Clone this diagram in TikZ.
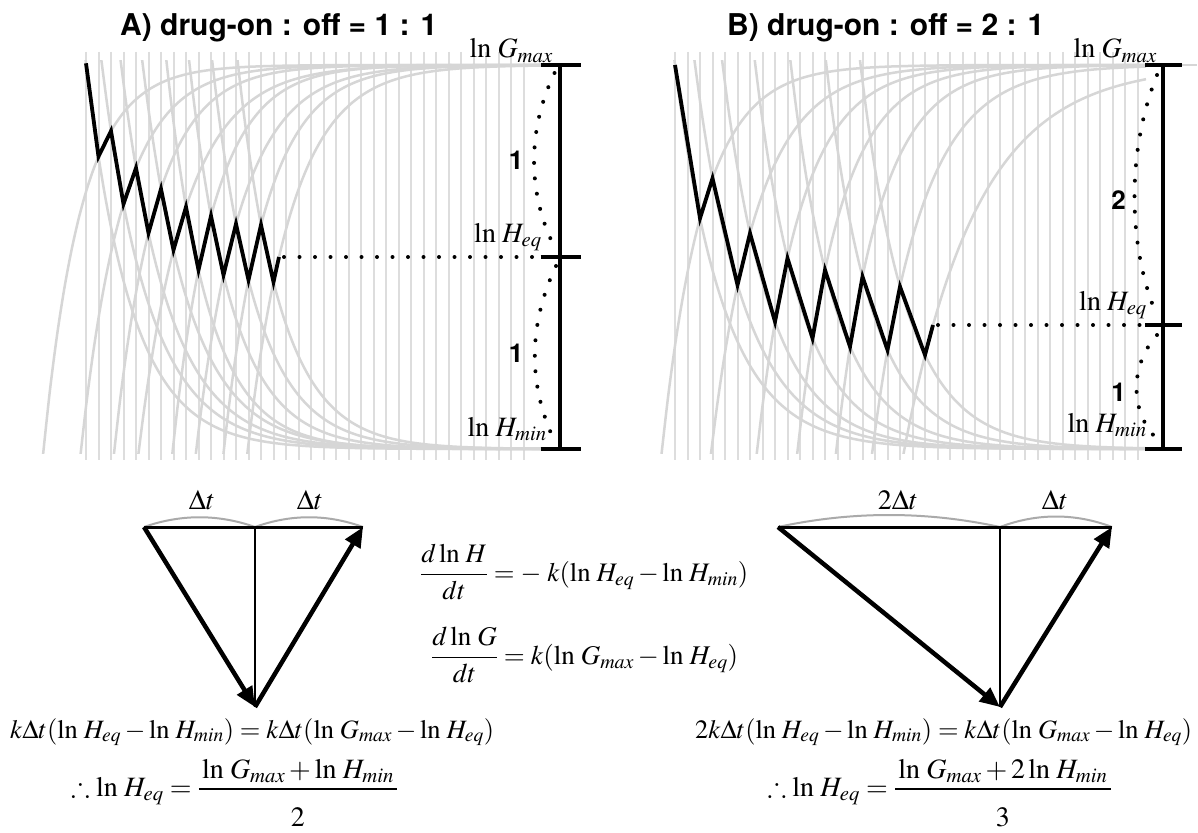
\documentclass[tikz,border=0pt]{standalone}
\usepackage{amsmath,amssymb}
\usepackage{mathptmx}
\usepackage{graphicx}
\usepackage{fontspec}
\setsansfont{TeX Gyre Heros}
\usetikzlibrary{arrows.meta,calc}
\definecolor{gridgrey}{RGB}{221,221,221}
\definecolor{curvegrey}{RGB}{214,214,214}
\definecolor{arcgrey}{RGB}{170,170,170}
\newcommand{\mfs}{\fontsize{28}{34}\selectfont}
\newcommand{\tfs}{\sffamily\bfseries\fontsize{30}{36}\selectfont}
\newcommand{\nfs}{\sffamily\bfseries\fontsize{26}{30}\selectfont}
\newcommand{\lnn}{\ln\mkern2mu}
% falling curve toward \yH through (xs,ys) and (xe,ye)
\newcommand{\fallcurve}[4]{%
  \pgfmathsetmacro{\cvRate}{ln((\yH-#2)/(\yH-#4))/(#3-#1)}%
  \pgfmathsetmacro{\cvStart}{#1-ln((\yH-58)/(\yH-#2))/\cvRate}%
  \draw[curve] plot[domain=\cvStart:\xR, samples=70, smooth] (\x,{\yH-(\yH-#2)*exp(-\cvRate*(\x-#1))});%
}
% rising curve toward \yG through (xs,ys) and (xe,ye)
\newcommand{\risecurve}[4]{%
  \pgfmathsetmacro{\cvRate}{ln((#2-\yG)/(#4-\yG))/(#3-#1)}%
  \pgfmathsetmacro{\cvStart}{#1-ln((458-\yG)/(#2-\yG))/\cvRate}%
  \draw[curve] plot[domain=\cvStart:\xR, samples=70, smooth] (\x,{\yG+(#2-\yG)*exp(-\cvRate*(\x-#1))});%
}
\begin{document}
\begin{tikzpicture}[x=1pt,y=-1pt,
  gridln/.style={draw=gridgrey, line width=2pt},
  curve/.style={draw=curvegrey, line width=2.5pt},
  zig/.style={draw=black, line width=3.8pt, line join=miter},
  dots/.style={draw=black, line width=4pt, line cap=round, dash pattern=on 0pt off 15.5pt},
  brk/.style={draw=black, line width=3.5pt},
  topln/.style={draw=black, line width=3pt},
  thinln/.style={draw=black, line width=1.8pt},
  arcln/.style={draw=arcgrey, line width=2pt},
  fracbar/.style={draw=black, line width=1.3pt},
  arr/.style={draw=black, line width=4.5pt, -{Triangle[length=20pt,width=17pt]}},
  lab/.style={inner sep=0pt, font=\mfs},
  ttl/.style={inner sep=0pt, font=\tfs},
  numlab/.style={inner sep=0pt, font=\nfs}
]
\useasboundingbox[fill=white] (0,0) rectangle (1198,832);

% ================= Panel A =================
\foreach \k in {0,...,35} \draw[gridln] ({86+12.5*\k},52) -- ({86+12.5*\k},460);
\def\yH{449}\def\yG{65}\def\xR{541}
\begin{scope}
\clip (0,61) rectangle (541,453);
\fallcurve{86}{63.3}{98.5}{156.5}
\fallcurve{111}{131}{123.5}{204}
\fallcurve{136}{168}{148.5}{233}
\fallcurve{161}{189}{173.5}{250}
\fallcurve{186}{207}{198.5}{270}
\fallcurve{211}{216}{223.5}{275}
\fallcurve{236}{224}{248.5}{280}
\fallcurve{261}{225}{273.5}{282}
\risecurve{98.5}{156.5}{111}{131}
\risecurve{123.5}{204}{136}{168}
\risecurve{148.5}{233}{161}{189}
\risecurve{173.5}{250}{186}{207}
\risecurve{198.5}{270}{211}{216}
\risecurve{223.5}{275}{236}{224}
\risecurve{248.5}{280}{261}{225}
\risecurve{273.5}{282}{279}{257}
\end{scope}
\draw[zig] (86,63.3) -- (98.5,156.5) -- (111,131) -- (123.5,204) -- (136,168) -- (148.5,233) -- (161,189) -- (173.5,250) -- (186,207) -- (198.5,270) -- (211,216) -- (223.5,275) -- (236,224) -- (248.5,280) -- (261,225) -- (273.5,282) -- (279,257);
\coordinate (zAend) at (284,257);
\coordinate (AtG) at (560,65); \coordinate (AtE) at (560,257); \coordinate (AtH) at (560,449);
\draw[dots] (zAend) -- (538,257);
\draw[brk] (AtG) -- (AtH);
\draw[brk] (540.5,65) -- (580.5,65);
\draw[brk] (540.5,257) -- (580.5,257);
\draw[brk] (540.5,449) -- (580.5,449);
\draw[dots] (554.5,73) .. controls (527,130) and (527,195) .. (556,250);
\draw[dots] (556,266) .. controls (528,325) and (528,385) .. (554.5,441);
\node[lab, anchor=base east] (AGmax) at (553,58) {$\lnn G_{max}$};
\node[lab, anchor=base east] (AHeq) at (542,242) {$\lnn H_{eq}$};
\node[lab, anchor=base east] (AHmin) at (547,436) {$\lnn H_{min}$};
\node[numlab] (A1a) at (516,160) {1};
\node[numlab] (A1b) at (516,353) {1};
\node[ttl, anchor=base west] (titleA) at (120,36) {A) drug-on : off = 1 : 1};

% ================= Panel B =================
\foreach \k in {0,...,37} \draw[gridln] ({675+12.5*\k},52) -- ({675+12.5*\k},460);
\def\xR{1146}
\begin{scope}
\clip (600,61) rectangle (1146,453);
\fallcurve{675}{65}{700}{218.3}
\fallcurve{712.5}{178.3}{737.5}{285}
\fallcurve{750}{233.3}{775}{321.7}
\fallcurve{787.5}{258.3}{812.5}{338.3}
\fallcurve{825}{270}{850}{346.7}
\fallcurve{862.5}{276.7}{887.5}{350}
\fallcurve{900}{286.7}{925}{355}
\risecurve{700}{218.3}{712.5}{178.3}
\risecurve{737.5}{285}{750}{233.3}
\risecurve{775}{321.7}{787.5}{258.3}
\risecurve{812.5}{338.3}{825}{270}
\risecurve{850}{346.7}{862.5}{276.7}
\risecurve{887.5}{350}{900}{286.7}
\risecurve{925}{355}{933}{325}
\end{scope}
\draw[curve] (1145,65) -- (1197,65);
\draw[zig] (675,65) -- (700,218.3) -- (712.5,178.3) -- (737.5,285) -- (750,233.3) -- (775,321.7) -- (787.5,258.3) -- (812.5,338.3) -- (825,270) -- (850,346.7) -- (862.5,276.7) -- (887.5,350) -- (900,286.7) -- (925,355) -- (933,325);
\coordinate (zBend) at (938,325);
\coordinate (BtG) at (1163,65); \coordinate (BtE) at (1163,325); \coordinate (BtH) at (1163,449);
\draw[dots] (zBend) -- (1143,325);
\draw[brk] (BtG) -- (BtH);
\draw[brk] (1145,65) -- (1182,65);
\draw[brk] (1145,325) -- (1182,325);
\draw[brk] (1145,449) -- (1182,449);
\draw[dots] (1157,75) .. controls (1127,150) and (1127,245) .. (1157,316);
\draw[dots] (1157,335) .. controls (1130,365) and (1130,410) .. (1155,437);
\node[lab, anchor=base east] (BGmax) at (1157,58) {$\lnn G_{max}$};
\node[lab, anchor=base east] (BHeq) at (1147,310) {$\lnn H_{eq}$};
\node[lab, anchor=base east] (BHmin) at (1147,432) {$\lnn H_{min}$};
\node[numlab] (B2) at (1118.5,200) {2};
\node[numlab] (B1) at (1118.5,392) {1};
\node[ttl, anchor=base west] (titleB) at (727,36) {B) drug-on : off = 2 : 1};

% ================= Triangle A =================
\coordinate (aL) at (144,527); \coordinate (aM) at (255,527);
\coordinate (aR) at (363,527); \coordinate (aB) at (255,707);
\draw[arcln] (aL) .. controls (181,514) and (218,514) .. (aM);
\draw[arcln] (aM) .. controls (291,514) and (327,514) .. (aR);
\draw[topln] (aL) -- (aR);
\draw[thinln] (aM) -- (aB);
\draw[arr] (aL) -- (aB);
\draw[arr] (aB) -- (aR);
\node[lab, anchor=base] (dtA1) at (202,509) {$\Delta t$};
\node[lab, anchor=base] (dtA2) at (310,509) {$\Delta t$};

% ================= Triangle B =================
\coordinate (bL) at (778,527); \coordinate (bM) at (1000,527);
\coordinate (bR) at (1112,527); \coordinate (bB) at (1000,707);
\draw[arcln] (bL) .. controls (852,511) and (926,511) .. (bM);
\draw[arcln] (bM) .. controls (1037,513) and (1075,513) .. (bR);
\draw[topln] (bL) -- (bR);
\draw[thinln] (bM) -- (bB);
\draw[arr] (bL) -- (bB);
\draw[arr] (bB) -- (bR);
\node[lab, anchor=base] (dtB1) at (898,509) {$2\Delta t$};
\node[lab, anchor=base] (dtB2) at (1055,509) {$\Delta t$};

% ================= Middle equations =================
\node[inner sep=0pt, anchor=base west] (eqH) at (420,581) {\resizebox{328pt}{!}{\mfs$\displaystyle\frac{d\lnn H}{dt} = -\;k(\lnn H_{eq} - \lnn H_{min})$}};
\node[inner sep=0pt, anchor=base west] (eqG) at (431,664) {\resizebox{307pt}{!}{\mfs$\displaystyle\frac{d\lnn G}{dt} = k(\lnn G_{max} - \lnn H_{eq})$}};

% ================= Bottom equations A =================
\node[inner sep=0pt, anchor=base west] (balA) at (10,738) {\resizebox{484pt}{!}{\mfs$k\Delta t(\lnn H_{eq} - \lnn H_{min}) = k\Delta t(\lnn G_{max} - \lnn H_{eq})$}};
\coordinate (fAc) at ($(balA.base west)!0.5945!(balA.base east)$);
\coordinate (yNum) at (0,778); \coordinate (yBar) at (0,789);
\coordinate (yRes) at (0,796);
\node[lab, anchor=base] (numA) at (fAc |- yNum) {$\lnn G_{max} + \lnn H_{min}$};
\draw[fracbar] ([xshift=-3pt]numA.west |- yBar) coordinate (barAl) -- ([xshift=3pt]numA.east |- yBar);
\node[lab, anchor=base east] (resA) at ([xshift=-7pt]barAl |- yRes) {$\therefore \lnn H_{eq} =$};
\coordinate (yDenA) at (0,826);
\node[lab, anchor=base] (denA) at (fAc |- yDenA) {$2$};

% ================= Bottom equations B =================
\node[inner sep=0pt, anchor=base west] (balB) at (695,738) {\resizebox{497pt}{!}{\mfs$2k\Delta t(\lnn H_{eq} - \lnn H_{min}) = k\Delta t(\lnn G_{max} - \lnn H_{eq})$}};
\coordinate (fBc) at ($(balB.base west)!0.619!(balB.base east)$);
\node[lab, anchor=base] (numB) at (fBc |- yNum) {$\lnn G_{max} + 2\lnn H_{min}$};
\draw[fracbar] ([xshift=-3pt]numB.west |- yBar) coordinate (barBl) -- ([xshift=3pt]numB.east |- yBar);
\node[lab, anchor=base east] (resB) at ([xshift=-7pt]barBl |- yRes) {$\therefore \lnn H_{eq} =$};
\coordinate (yDenB) at (0,826);
\node[lab, anchor=base] (denB) at (fBc |- yDenB) {$3$};
\end{tikzpicture}
\end{document}
